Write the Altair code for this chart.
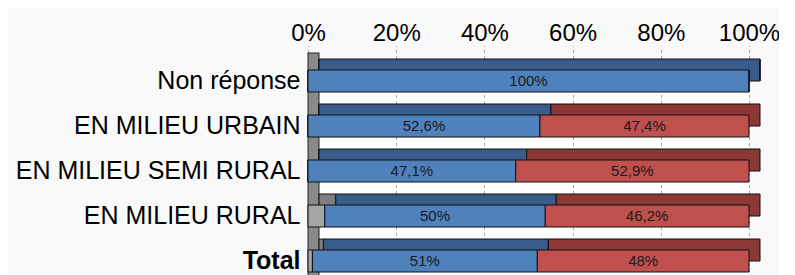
import altair as alt
import pandas as pd

categories = ["Non réponse", "EN MILIEU URBAIN", "EN MILIEU SEMI RURAL", "EN MILIEU RURAL", "Total"]
series = ["Non réponse", "Oui", "Non"]
gray_vals = [0, 0, 0, 3.8, 1]
blue_vals = [100, 52.6, 47.1, 50, 51]
red_vals = [0, 47.4, 52.9, 46.2, 48]
gray_labels = ["", "", "", "", ""]
blue_labels = ["100%", "52,6%", "47,1%", "50%", "51%"]
red_labels = ["", "47,4%", "52,9%", "46,2%", "48%"]
tick_values = [0, 0.2, 0.4, 0.6, 0.8, 1.0]
front_colors = ["#A5A5A5", "#4F81BD", "#C0504D"]
depth_colors = ["#7F7F7F", "#385D8A", "#8C3836"]

rows = []
for i, cat in enumerate(categories):
    for k, (vals, labs) in enumerate([(gray_vals, gray_labels), (blue_vals, blue_labels), (red_vals, red_labels)]):
        rows.append({"cat": cat, "serie": series[k], "ord": k, "val": vals[i], "label": labs[i]})
df = pd.DataFrame(rows)

base = alt.Chart(df).transform_stack(
    stack="val", groupby=["cat"], as_=["x0", "x1"],
    sort=[alt.SortField("ord")], offset="normalize"
).transform_calculate(mid="(datum.x0 + datum.x1) / 2")

y_axis = alt.Axis(
    labelFontSize=25, labelFont="Liberation Sans", labelColor="#000",
    labelFontWeight={"condition": {"test": "datum.value == 'Total'", "value": "bold"}, "value": "normal"},
    ticks=False, domain=False, labelPadding=8, labelLimit=400, grid=False,
)
x_axis = alt.Axis(
    orient="top", values=tick_values, format=".0%",
    labelFontSize=24, labelFont="Liberation Sans", labelColor="#000",
    labelBaseline="alphabetic", labelPadding=5, labelFlush=False, labelAlign="center",
    grid=True, gridDash=[3, 3], gridColor="#a8a8a8",
    ticks=True, tickSize=13, tickDash=[3, 3], tickColor="#a8a8a8",
    domain=False,
)
x_scale = alt.Scale(domain=[0, 1], nice=False)
y_scale = alt.Scale(paddingInner=0, paddingOuter=0)

y_enc = alt.Y("cat:N", sort=categories, title=None, scale=y_scale, axis=y_axis)
x_enc = alt.X("x0:Q", title=None, scale=x_scale, axis=x_axis)

wall_df = pd.DataFrame({"x": [0.0]})
wall_edge = alt.Chart(wall_df).mark_rule(color="#222", strokeWidth=12, xOffset=5.5).encode(
    x=alt.X("x:Q", scale=x_scale, axis=x_axis, title=None),
    y=alt.value(-6), y2=alt.value(225),
)
wall = alt.Chart(wall_df).mark_rule(color="#8a8a8a", strokeWidth=10, xOffset=5.5).encode(
    x=alt.X("x:Q", scale=x_scale, axis=x_axis, title=None),
    y=alt.value(-5), y2=alt.value(225),
)

depth = base.mark_bar(
    size=22, xOffset=11, x2Offset=11, yOffset=-11, y2Offset=-11,
    stroke="#111", strokeWidth=1,
).encode(
    x=x_enc, x2="x1:Q", y=y_enc,
    color=alt.Color("serie:N", scale=alt.Scale(domain=series, range=depth_colors), legend=None),
    order=alt.Order("ord:Q"),
)

front = base.mark_bar(size=22, stroke="#111", strokeWidth=1).encode(
    x=x_enc, x2="x1:Q", y=y_enc,
    color=alt.Color("serie:N", scale=alt.Scale(domain=series, range=front_colors), legend=None),
    order=alt.Order("ord:Q"),
)

text = base.transform_filter("datum.label != ''").mark_text(
    fontSize=15, font="Liberation Sans", color="#1a1a1a"
).encode(
    x=alt.X("mid:Q", title=None, scale=x_scale, axis=x_axis),
    y=y_enc,
    text="label:N",
)

chart = alt.layer(wall_edge, wall, depth, front, text).resolve_scale(color="independent").properties(
    width=441, height=225,
    autosize=alt.AutoSizeParams(type="none"),
    padding={"left": 300, "top": 50.5, "right": 30, "bottom": 0},
    background="#f9f9f9",
).configure_view(stroke=None, fill="white")

chart.save("out.html", embed_options={"renderer": "svg", "actions": False})
